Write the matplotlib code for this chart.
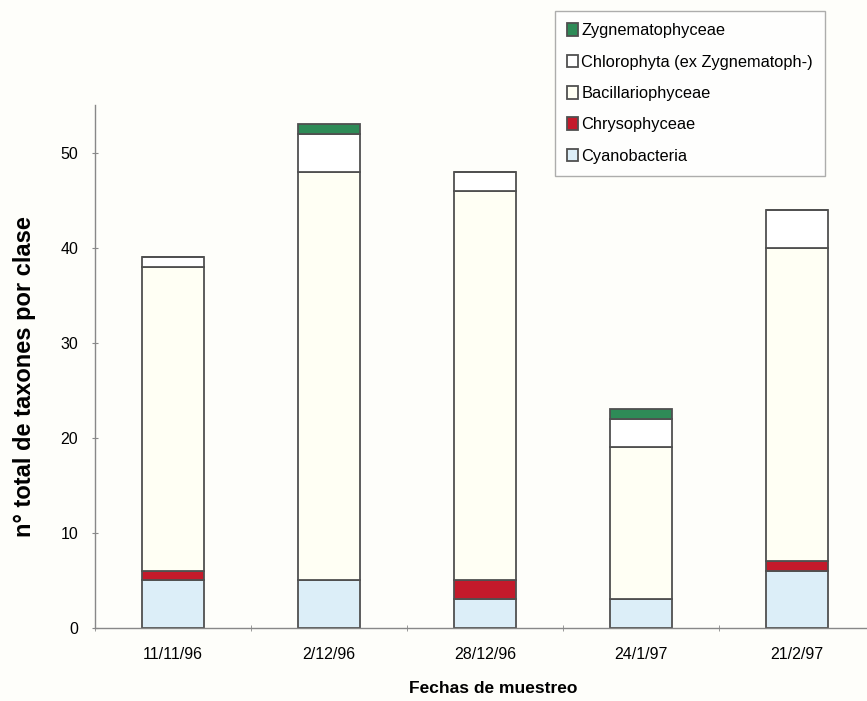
import matplotlib
matplotlib.use("Agg")
import matplotlib.pyplot as plt
import numpy as np

plt.rcParams['font.family'] = ['Liberation Sans', 'DejaVu Sans']

dates = ["11/11/96", "2/12/96", "28/12/96", "24/1/97", "21/2/97"]
cyanobacteria = [5, 5, 3, 3, 6]
chrysophyceae = [1, 0, 2, 0, 1]
bacillariophyceae = [32, 43, 41, 16, 33]
chlorophyta = [1, 4, 2, 3, 4]
zygnematophyceae = [0, 1, 0, 1, 0]

series = [
    ("Cyanobacteria", cyanobacteria, "#dcEEf8"),
    ("Chrysophyceae", chrysophyceae, "#c41a2b"),
    ("Bacillariophyceae", bacillariophyceae, "#fffff4"),
    ("Chlorophyta (ex Zygnematoph-)", chlorophyta, "#ffffff"),
    ("Zygnematophyceae", zygnematophyceae, "#2e8b57"),
]

bg = "#fefefa"
fig = plt.figure(figsize=(8.67, 7.01), dpi=100, facecolor=bg)
ax = fig.add_axes([95/867, 73/701, 780/867, 523/701], facecolor=bg)

x = np.arange(len(dates))
bottom = np.zeros(len(dates))
handles = {}
for name, vals, col in series:
    vals = np.array(vals, dtype=float)
    b = ax.bar(x, vals, width=0.4, bottom=bottom, color=col,
               edgecolor="#505050", linewidth=1.3, label=name)
    handles[name] = b
    bottom += vals

ax.set_xlim(-0.5, 4.5)
ax.set_ylim(0, 55)
ax.set_yticks([0, 10, 20, 30, 40, 50])
ax.set_xticks(x)
ax.set_xticklabels(dates, fontsize=11.5)
ax.set_xticks(np.arange(-0.5, 4.6, 1.0), minor=True)
ax.tick_params(axis='x', which='major', length=0, pad=14)
ax.tick_params(axis='x', which='minor', length=5, direction='inout', color="#888888")
ax.tick_params(axis='y', length=4, direction='inout', color="#888888", labelsize=11.5, pad=10)
for s in ["top", "right"]:
    ax.spines[s].set_visible(False)
for s in ["left", "bottom"]:
    ax.spines[s].set_color("#888888")
    ax.spines[s].set_linewidth(1.0)

ax.set_ylabel("n° total de taxones por clase", fontsize=17, fontweight="bold")
ax.yaxis.set_label_coords(-0.076, 0.48)
ax.set_xlabel("Fechas de muestreo", fontsize=12.5, fontweight="bold")
ax.xaxis.set_label_coords(0.51, -0.102)

order = ["Zygnematophyceae", "Chlorophyta (ex Zygnematoph-)", "Bacillariophyceae",
         "Chrysophyceae", "Cyanobacteria"]
leg = fig.legend([handles[n] for n in order], order,
                 loc="upper left", bbox_to_anchor=(555/867, 1 - 11/701),
                 fontsize=11.8, frameon=True, fancybox=False,
                 handlelength=0.65, handleheight=0.8, handletextpad=0.2,
                 labelspacing=1.0, borderpad=0.75, borderaxespad=0)
leg.get_frame().set_edgecolor("#999999")
leg.get_frame().set_facecolor("#ffffff")
leg.get_frame().set_linewidth(1.0)

fig.savefig("out.png", dpi=100, facecolor=bg)
